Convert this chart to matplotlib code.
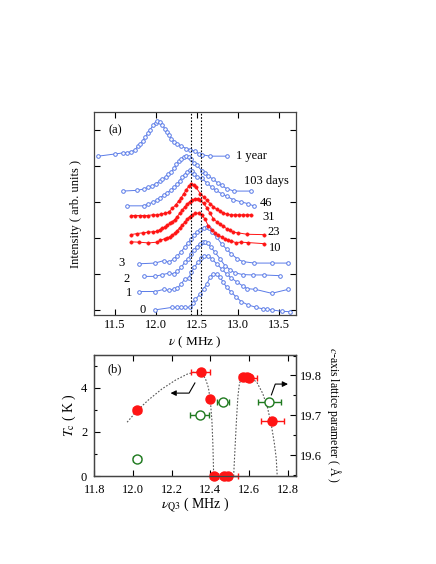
import matplotlib
matplotlib.use("Agg")
import matplotlib.pyplot as plt
from matplotlib.ticker import MultipleLocator, FixedLocator, NullFormatter, FormatStrFormatter

plt.rcParams['font.family'] = ['Liberation Serif', 'DejaVu Serif']
plt.rcParams['mathtext.fontset'] = 'stix'
plt.rcParams['font.size'] = 9

# ---------------- Panel (a) data: NMR spectra (offset intensities) ----------------
x_1y = [11.30, 11.50, 11.60, 11.65, 11.70, 11.75, 11.78, 11.81, 11.84, 11.87, 11.90, 11.93, 11.97, 12.00,
        12.02, 12.05, 12.08, 12.11, 12.13, 12.16, 12.19, 12.22, 12.26, 12.31, 12.37, 12.42, 12.48, 12.52,
        12.56, 12.66, 12.86]
y_1y = [4.28, 4.34, 4.37, 4.38, 4.40, 4.46, 4.56, 4.63, 4.70, 4.81, 4.91, 5.02, 5.14, 5.21,
        5.26, 5.23, 5.14, 5.04, 4.95, 4.86, 4.77, 4.68, 4.63, 4.56, 4.49, 4.46, 4.42, 4.35,
        4.32, 4.28, 4.28]

x_103 = [11.60, 11.77, 11.86, 11.91, 11.95, 12.00, 12.05, 12.08, 12.12, 12.15, 12.19, 12.22, 12.25, 12.28,
         12.31, 12.34, 12.37, 12.40, 12.43, 12.46, 12.50, 12.56, 12.60, 12.64, 12.70, 12.75, 12.80, 12.86,
         12.95, 13.16]
y_103 = [3.31, 3.33, 3.37, 3.43, 3.44, 3.52, 3.58, 3.64, 3.70, 3.78, 3.85, 3.94, 4.05, 4.14,
         4.21, 4.26, 4.29, 4.26, 4.19, 4.09, 4.03, 3.87, 3.80, 3.72, 3.64, 3.54, 3.47, 3.38,
         3.31, 3.31]

x_46 = [11.65, 11.85, 11.91, 11.97, 12.02, 12.05, 12.10, 12.14, 12.18, 12.22, 12.26, 12.29, 12.32, 12.35,
        12.38, 12.41, 12.44, 12.47, 12.50, 12.56, 12.62, 12.68, 12.73, 12.80, 12.86, 12.94, 13.04, 13.12,
        13.20]
y_46 = [2.90, 2.90, 2.95, 3.01, 3.06, 3.13, 3.19, 3.27, 3.33, 3.41, 3.50, 3.59, 3.70, 3.77,
        3.83, 3.90, 3.86, 3.78, 3.70, 3.66, 3.54, 3.42, 3.33, 3.24, 3.17, 3.07, 3.01, 2.96,
        2.89]

x_31 = [11.70, 11.75, 11.81, 11.85, 11.90, 11.96, 12.01, 12.06, 12.11, 12.16, 12.20, 12.24, 12.28, 12.31,
        12.34, 12.37, 12.40, 12.43, 12.46, 12.49, 12.54, 12.58, 12.62, 12.66, 12.70, 12.74, 12.78, 12.82,
        12.86, 12.91, 12.96, 13.01, 13.06, 13.11, 13.16]
y_31 = [2.63, 2.63, 2.63, 2.63, 2.63, 2.65, 2.65, 2.67, 2.69, 2.73, 2.83, 2.92, 3.04, 3.13,
        3.24, 3.35, 3.44, 3.50, 3.47, 3.41, 3.24, 3.15, 3.06, 2.96, 2.88, 2.80, 2.75, 2.71,
        2.67, 2.65, 2.65, 2.65, 2.65, 2.65, 2.65]

x_23 = [11.70, 11.77, 11.84, 11.91, 11.96, 12.01, 12.05, 12.08, 12.11, 12.14, 12.17, 12.20, 12.23, 12.26,
        12.29, 12.32, 12.35, 12.38, 12.41, 12.44, 12.48, 12.51, 12.54, 12.58, 12.62, 12.66, 12.70, 12.74,
        12.78, 12.82, 12.86, 12.90, 12.94, 13.00, 13.11, 13.31]
y_23 = [2.10, 2.13, 2.15, 2.17, 2.18, 2.19, 2.24, 2.28, 2.31, 2.36, 2.41, 2.46, 2.52, 2.60,
        2.69, 2.78, 2.87, 2.94, 3.01, 3.06, 3.10, 3.09, 3.06, 2.97, 2.85, 2.69, 2.54, 2.46,
        2.39, 2.33, 2.27, 2.22, 2.17, 2.15, 2.11, 2.10]

x_10 = [11.70, 11.80, 11.91, 12.01, 12.05, 12.11, 12.14, 12.17, 12.20, 12.23, 12.26, 12.29, 12.32, 12.35,
        12.38, 12.41, 12.44, 12.48, 12.52, 12.56, 12.60, 12.64, 12.68, 12.72, 12.76, 12.80, 12.84, 12.88,
        12.92, 12.97, 13.03, 13.12, 13.31]
y_10 = [1.90, 1.89, 1.87, 1.89, 1.94, 1.99, 2.01, 2.04, 2.08, 2.14, 2.21, 2.29, 2.36, 2.44,
        2.53, 2.60, 2.65, 2.69, 2.70, 2.64, 2.53, 2.33, 2.24, 2.15, 2.08, 2.03, 1.97, 1.94,
        1.92, 1.88, 1.89, 1.88, 1.85]

x_3 = [11.79, 11.99, 12.10, 12.16, 12.22, 12.26, 12.31, 12.35, 12.39, 12.43, 12.46, 12.50, 12.54, 12.58,
       12.62, 12.65, 12.68, 12.74, 12.80, 12.86, 12.92, 12.99, 13.06, 13.20, 13.41, 13.61]
y_3 = [1.29, 1.31, 1.38, 1.33, 1.43, 1.50, 1.63, 1.75, 1.87, 1.98, 2.08, 2.17, 2.24, 2.28,
       2.32, 2.28, 2.17, 2.03, 1.84, 1.70, 1.56, 1.43, 1.35, 1.31, 1.31, 1.31]

x_2 = [11.85, 11.99, 12.08, 12.16, 12.22, 12.26, 12.31, 12.35, 12.39, 12.43, 12.46, 12.50, 12.54, 12.57,
       12.60, 12.63, 12.67, 12.72, 12.78, 12.84, 12.90, 12.96, 13.06, 13.18, 13.31, 13.51]
y_2 = [0.94, 0.94, 0.99, 1.03, 1.01, 1.08, 1.19, 1.33, 1.43, 1.56, 1.67, 1.76, 1.85, 1.89,
       1.90, 1.86, 1.75, 1.61, 1.43, 1.24, 1.13, 1.04, 0.99, 0.98, 0.98, 0.96]

x_1 = [11.79, 11.99, 12.10, 12.16, 12.22, 12.26, 12.31, 12.35, 12.40, 12.43, 12.47, 12.51, 12.55, 12.59,
       12.63, 12.68, 12.74, 12.80, 12.86, 12.92, 12.99, 13.06, 13.11, 13.21, 13.41, 13.61]
y_1 = [0.52, 0.52, 0.58, 0.55, 0.59, 0.61, 0.73, 0.87, 0.89, 1.06, 1.19, 1.33, 1.44, 1.50,
       1.52, 1.43, 1.29, 1.15, 1.01, 0.89, 0.78, 0.67, 0.60, 0.58, 0.47, 0.58]

x_0 = [11.99, 12.20, 12.26, 12.31, 12.36, 12.42, 12.45, 12.48, 12.54, 12.58, 12.62, 12.66, 12.70, 12.74,
       12.78, 12.82, 12.86, 12.92, 12.98, 13.04, 13.12, 13.22, 13.30, 13.35, 13.41, 13.53, 13.63]
y_0 = [0.01, 0.08, 0.08, 0.08, 0.08, 0.08, 0.20, 0.30, 0.45, 0.59, 0.73, 0.92, 1.01, 1.00,
       0.92, 0.78, 0.64, 0.50, 0.36, 0.24, 0.15, 0.08, 0.04, 0.03, 0.01, -0.03, -0.04]

blue_curves = [(x_0, y_0), (x_1, y_1), (x_2, y_2), (x_3, y_3), (x_46, y_46), (x_103, y_103), (x_1y, y_1y)]
red_curves = [(x_10, y_10), (x_23, y_23), (x_31, y_31)]

right_labels = ["1 year", "103 days", "46", "31", "23", "10"]
right_label_x = [12.98, 13.07, 13.26, 13.30, 13.36, 13.38]
right_label_y = [4.28, 3.58, 2.98, 2.59, 2.16, 1.73]
left_labels = ["3", "2", "1", "0"]
left_label_x = [11.58, 11.64, 11.68, 11.84]
left_label_y = [1.30, 0.86, 0.47, 0.02]
dotted_lines = [12.43, 12.55]

# ---------------- Panel (b) data ----------------
nq_tc = [12.02, 12.35, 12.40, 12.42, 12.47, 12.49, 12.57, 12.59, 12.60, 12.72]
tc = [3.0, 4.7, 3.5, 0.0, 0.0, 0.0, 4.5, 4.5, 4.45, 2.5]
nq_tc_err = [0.02, 0.05, 0.01, 0.02, 0.02, 0.05, 0.02, 0.02, 0.04, 0.06]

nq_c = [12.02, 12.345, 12.465, 12.705]
c_axis = [19.59, 19.70, 19.733, 19.733]
nq_c_err = [0.02, 0.05, 0.03, 0.06]

guide1_x = [11.97, 12.02, 12.08, 12.15, 12.22, 12.28, 12.32, 12.355, 12.375, 12.39, 12.40, 12.408, 12.413, 12.417]
guide1_y = [2.44, 2.95, 3.45, 3.95, 4.35, 4.62, 4.72, 4.68, 4.40, 4.00, 3.40, 2.50, 1.40, 0.0]
guide2_x = [12.52, 12.528, 12.535, 12.542, 12.55, 12.565, 12.60, 12.64, 12.67, 12.695, 12.715, 12.73, 12.74, 12.745]
guide2_y = [0.0, 1.40, 2.60, 3.60, 4.20, 4.50, 4.52, 4.25, 3.75, 3.10, 2.30, 1.50, 0.80, 0.0]

BLUE = '#5a7be8'
RED = '#ff1414'
GREEN = '#1f7a1f'

fig = plt.figure(figsize=(4.36, 5.64), dpi=100)

# ---------------- Panel (a) ----------------
axa = fig.add_axes([0.216, 0.441, 0.462, 0.360])
for xs, ys in blue_curves:
    axa.plot(xs, ys, '-o', color=BLUE, lw=0.7, ms=2.6, mfc='white', mec=BLUE, mew=0.7)
for xs, ys in red_curves:
    axa.plot(xs, ys, '-o', color=RED, lw=0.7, ms=2.4, mfc=RED, mec=RED, mew=0.4)
for xv in dotted_lines:
    axa.axvline(xv, color='black', lw=0.8, ls=(0, (1.5, 1.5)))
for t, xx, yy in zip(right_labels, right_label_x, right_label_y):
    axa.text(xx, yy, t, ha='left', va='center', fontsize=9)
for t, xx, yy in zip(left_labels, left_label_x, left_label_y):
    axa.text(xx, yy, t, ha='center', va='center', fontsize=9)
axa.text(11.42, 5.0, "(a)", ha='left', va='center', fontsize=9)
axa.set_xlim(11.25, 13.70)
axa.set_ylim(-0.14, 5.5)
axa.xaxis.set_major_locator(FixedLocator([11.5, 12.0, 12.5, 13.0, 13.5]))
axa.set_xticklabels(["11.5", "12.0", "12.5", "13.0", "13.5"])
axa.yaxis.set_major_locator(FixedLocator([0, 1, 2, 3, 4, 5]))
axa.yaxis.set_major_formatter(NullFormatter())
axa.tick_params(direction='in', top=True, right=True, length=4, width=0.8, labelsize=9, pad=3)
axa.set_xlabel(r"$\nu$ ( MHz )", fontsize=9.5, labelpad=2)
axa.set_ylabel("Intensity ( arb. units )", fontsize=9, labelpad=6)
for s in axa.spines.values():
    s.set_linewidth(0.9)
    s.set_color('#444444')

# ---------------- Panel (b) ----------------
axb = fig.add_axes([0.216, 0.156, 0.462, 0.215])
axb.plot(guide1_x, guide1_y, color='#555555', lw=0.8, ls=(0, (1.5, 1.5)))
axb.plot(guide2_x, guide2_y, color='#555555', lw=0.8, ls=(0, (1.5, 1.5)))
axb.errorbar(nq_tc, tc, xerr=nq_tc_err, fmt='o', color=RED, ms=6.5, mfc=RED, mec=RED,
             elinewidth=1.0, capsize=2.5, capthick=1.0, zorder=5, clip_on=False)
axb.set_xlim(11.8, 12.84)
axb.set_ylim(0, 5.5)
axb.xaxis.set_major_locator(MultipleLocator(0.2))
axb.xaxis.set_major_formatter(FormatStrFormatter('%.1f'))
axb.yaxis.set_major_locator(MultipleLocator(2))
axb.yaxis.set_minor_locator(MultipleLocator(1))
axb.tick_params(which='both', direction='in', top=True, labelsize=9)
axb.tick_params(axis='x', pad=5.5)
axb.tick_params(axis='y', pad=5)
axb.tick_params(which='major', length=4, width=0.8)
axb.tick_params(which='minor', length=2, width=0.8)
axb.set_xlabel(r"$\nu_{\rm Q3}$ ( MHz )", fontsize=10, labelpad=0)
axb.set_ylabel(r"$T_{\rm c}$ ( K )", fontsize=10, labelpad=2)
axb.text(11.87, 4.82, "(b)", ha='left', va='center', fontsize=9)

# arrows
axb.plot([12.32, 12.29, 12.23], [4.22, 3.76, 3.76], color='black', lw=0.8)
axb.annotate("", xy=(12.18, 3.76), xytext=(12.235, 3.76),
             arrowprops=dict(arrowstyle='-|>', color='black', lw=0.8, mutation_scale=8))
axb.plot([12.715, 12.735, 12.77], [3.68, 4.17, 4.17], color='black', lw=0.8)
axb.annotate("", xy=(12.815, 4.17), xytext=(12.765, 4.17),
             arrowprops=dict(arrowstyle='-|>', color='black', lw=0.8, mutation_scale=8))

axc = axb.twinx()
axc.errorbar(nq_c, c_axis, xerr=nq_c_err, fmt='o', color=GREEN, ms=6.5, mfc='white', mec=GREEN,
             mew=1.0, elinewidth=1.0, capsize=2.5, capthick=1.0, zorder=5)
axc.set_ylim(19.548, 19.852)
axc.yaxis.set_major_locator(FixedLocator([19.6, 19.7, 19.8]))
axc.set_yticklabels(["19.6", "19.7", "19.8"])
axc.yaxis.set_minor_locator(MultipleLocator(0.05))
axc.tick_params(which='both', direction='in', labelsize=9, pad=3)
axc.tick_params(which='major', length=4, width=0.8)
axc.tick_params(which='minor', length=2, width=0.8)
axc.set_ylabel(r"$c$-axis lattice parameter ( Å )", rotation=270, fontsize=8.5, labelpad=15)
for a in (axb, axc):
    for s in a.spines.values():
        s.set_linewidth(0.9)
        s.set_color('#444444')

fig.savefig("out.png", dpi=100)
